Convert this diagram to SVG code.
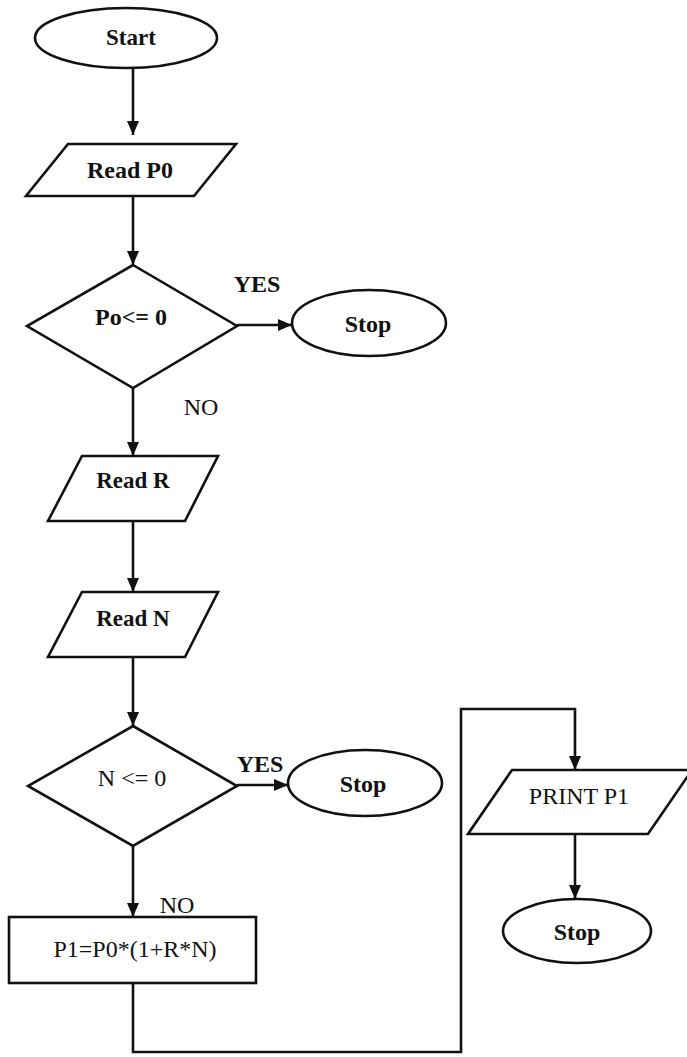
<svg xmlns="http://www.w3.org/2000/svg" width="687" height="1057" viewBox="0 0 687 1057">
<defs>
<marker id="arr" viewBox="0 0 14 12" refX="14" refY="6" markerWidth="14" markerHeight="12" markerUnits="userSpaceOnUse" orient="auto">
<path d="M0,0 L14,6 L0,12 Z" fill="#111"/>
</marker>
<style>
.s{fill:#fff;stroke:#111;stroke-width:2.6}
.c{fill:none;stroke:#111;stroke-width:2.6}
text{font-family:"Liberation Serif","Times New Roman",serif;font-size:24px;fill:#111;text-anchor:middle}
.b{font-weight:bold}
</style>
</defs>
<rect width="687" height="1057" fill="#fff"/>
<g id="connectors">
<path class="c" d="M133,68 L133,135" marker-end="url(#arr)"/>
<path class="c" d="M133,196 L133,265" marker-end="url(#arr)"/>
<path class="c" d="M237,325 L292,325" marker-end="url(#arr)"/>
<path class="c" d="M133,388 L133,456" marker-end="url(#arr)"/>
<path class="c" d="M133,521 L133,592" marker-end="url(#arr)"/>
<path class="c" d="M133,657 L133,726" marker-end="url(#arr)"/>
<path class="c" d="M237,785 L288,785" marker-end="url(#arr)"/>
<path class="c" d="M133,846 L133,917" marker-end="url(#arr)"/>
<path class="c" d="M133,983 L133,1052 L461,1052 L461,709 L575,709 L575,770" marker-end="url(#arr)"/>
<path class="c" d="M575,834 L575,899" marker-end="url(#arr)"/>
<text class="b" x="257" y="292">YES</text>
<text x="201" y="415">NO</text>
<text class="b" x="260" y="772">YES</text>
<text x="177" y="913">NO</text>
</g>
<g id="start">
<ellipse class="s" cx="126" cy="38" rx="91" ry="30"/>
<text class="b" x="131" y="45" style="font-size:23px">Start</text>
</g>
<g id="readP0">
<polygon class="s" points="68,144 236,144 194,196 26,196"/>
<text class="b" x="130" y="178">Read P0</text>
</g>
<g id="dec1">
<polygon class="s" points="133,265 237,326 133,388 27,326"/>
<text class="b" x="131" y="325">Po&lt;= 0</text>
</g>
<g id="stop1">
<ellipse class="s" cx="369" cy="323" rx="77" ry="33"/>
<text class="b" x="368" y="332">Stop</text>
</g>
<g id="readR">
<polygon class="s" points="82,456 218,456 185,521 48,521"/>
<text class="b" x="133" y="488" style="font-size:23px">Read R</text>
</g>
<g id="readN">
<polygon class="s" points="82,592 218,592 185,657 48,657"/>
<text class="b" x="133" y="626" style="font-size:23px">Read N</text>
</g>
<g id="dec2">
<polygon class="s" points="133,726 237,786 133,846 28,786"/>
<text x="132" y="786">N &lt;= 0</text>
</g>
<g id="stop2">
<ellipse class="s" cx="365" cy="783" rx="77" ry="33"/>
<text class="b" x="363" y="792">Stop</text>
</g>
<g id="calc">
<rect class="s" x="9" y="917" width="247" height="66"/>
<text x="135" y="957">P1=P0*(1+R*N)</text>
</g>
<g id="print">
<polygon class="s" points="512,770 692,770 648,834 468,834"/>
<text x="579" y="804">PRINT P1</text>
</g>
<g id="stop3">
<ellipse class="s" cx="577" cy="931" rx="74" ry="32"/>
<text class="b" x="577" y="940">Stop</text>
</g>
</svg>
